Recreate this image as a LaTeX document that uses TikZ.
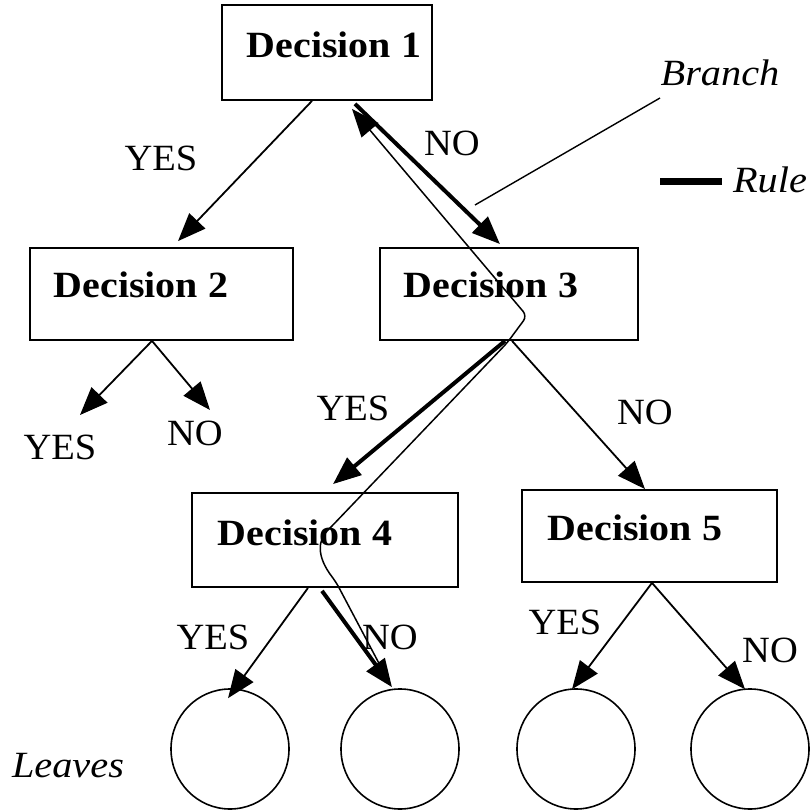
\documentclass[tikz,border=0pt]{standalone}
\usepackage{fontspec}
\setmainfont{Liberation Serif}
\usetikzlibrary{arrows.meta,calc,shapes.geometric}
\begin{document}
\begin{tikzpicture}[x=1pt,y=-1pt,
  box/.style={draw, line width=1.8pt, inner sep=0pt},
  leaf/.style={draw, line width=1.6pt, ellipse, minimum width=118pt, minimum height=120pt, inner sep=0pt},
  dtext/.style={font=\fontsize{37}{40}\selectfont\bfseries, inner sep=0pt, xscale=1.08},
  lab/.style={font=\fontsize{37}{40}\selectfont, inner sep=0pt, xscale=1.04},
  ilab/.style={font=\fontsize{37}{40}\selectfont\itshape, inner sep=0pt, xscale=1.09},
  thinarr/.style={line width=1.8pt, -{Triangle[length=28pt,width=22pt]}},
  thickarr/.style={line width=4pt, -{Triangle[length=28pt,width=22pt]}},
  rulepath/.style={line width=1.5pt, rounded corners=6pt},
]
\useasboundingbox (0,0) rectangle (812,810);
% boxes
\node[box, minimum width=210pt, minimum height=95pt] (d1) at (327,52.5) {};
\node[box, minimum width=263pt, minimum height=92pt] (d2) at (161.5,294) {};
\node[box, minimum width=258pt, minimum height=92pt] (d3) at (509,294) {};
\node[box, minimum width=266pt, minimum height=94pt] (d4) at (325,540) {};
\node[box, minimum width=255pt, minimum height=92pt] (d5) at (649.5,536) {};
\node[dtext] (t1) at (334,45) {Decision 1};
\node[dtext] (t2) at (141,285) {Decision 2};
\node[dtext] (t3) at (491,285) {Decision 3};
\node[dtext] (t4) at (305,533) {Decision 4};
\node[dtext] (t5) at (635,528) {Decision 5};
% leaves
\node[leaf] (l1) at (230,749) {};
\node[leaf] (l2) at (400,749) {};
\node[leaf] (l3) at (576,749) {};
\node[leaf] (l4) at (750,749) {};
% free ends under Decision 2
\coordinate (y2) at (80,415);
\coordinate (n2) at (210,410);
% connectors
\draw[thinarr] ([xshift=-15pt]d1.south) -- ([xshift=16.5pt,yshift=6pt]d2.north);
\draw[thickarr] ([xshift=28pt,yshift=-3pt]d1.south) -- ([xshift=-9pt,yshift=3pt]d3.north);
\draw[thinarr] ([xshift=-9.5pt]d2.south) -- (y2);
\draw[thinarr] ([xshift=-9.5pt]d2.south) -- (n2);
\draw[thickarr] ([xshift=-4pt]d3.south) -- ([xshift=8pt,yshift=8pt]d4.north);
\draw[thinarr] ([xshift=3pt]d3.south) -- ([xshift=-4.5pt,yshift=0pt]d5.north);
\draw[thinarr] ([xshift=-17pt]d4.south) -- ([xshift=-2pt,yshift=-10pt]l1.north);
\draw[thickarr] ([xshift=-3pt,yshift=-3pt]d4.south) -- ([xshift=-8pt,yshift=1pt]l2.north);
\draw[thinarr] ([xshift=2.5pt]d5.south) -- ([xshift=-4pt,yshift=-1pt]l3.north);
\draw[thinarr] ([xshift=2.5pt]d5.south) -- ([xshift=-5pt,yshift=-1pt]l4.north);
% rule path
\draw[rulepath, -{Triangle[length=28pt,width=22pt]}] ([xshift=-10pt,yshift=4pt]l2.north) -- (336,582) .. controls (316,556) and (318,540) .. (332,526) -- (507,343) -- (527,316) -- ([xshift=25pt,yshift=-8pt]d1.south);
% branch pointer
\coordinate (bp) at (475,205);
\coordinate (bq) at (660,98);
\draw[line width=1.4pt] (bp) -- (bq);
% rule legend
\coordinate (ra) at (660,182);
\coordinate (rb) at (722,182);
\draw[line width=7pt] (ra) -- (rb);
% labels
\node[lab] (la) at (161,158) {YES};
\node[lab] (lb) at (452,143) {NO};
\node[lab] (lc) at (60,447) {YES};
\node[lab] (ld) at (195,433) {NO};
\node[lab] (le) at (353,408) {YES};
\node[lab] (lf) at (645,412) {NO};
\node[lab] (lg) at (213,637) {YES};
\node[lab] (lh) at (390,637) {NO};
\node[lab] (li) at (565,622) {YES};
\node[lab] (lj) at (770,650) {NO};
\node[ilab] (lk) at (68,766) {Leaves};
\node[ilab] (ll) at (720,73) {Branch};
\node[ilab] (lm) at (770,180) {Rule};
\end{tikzpicture}
\end{document}
